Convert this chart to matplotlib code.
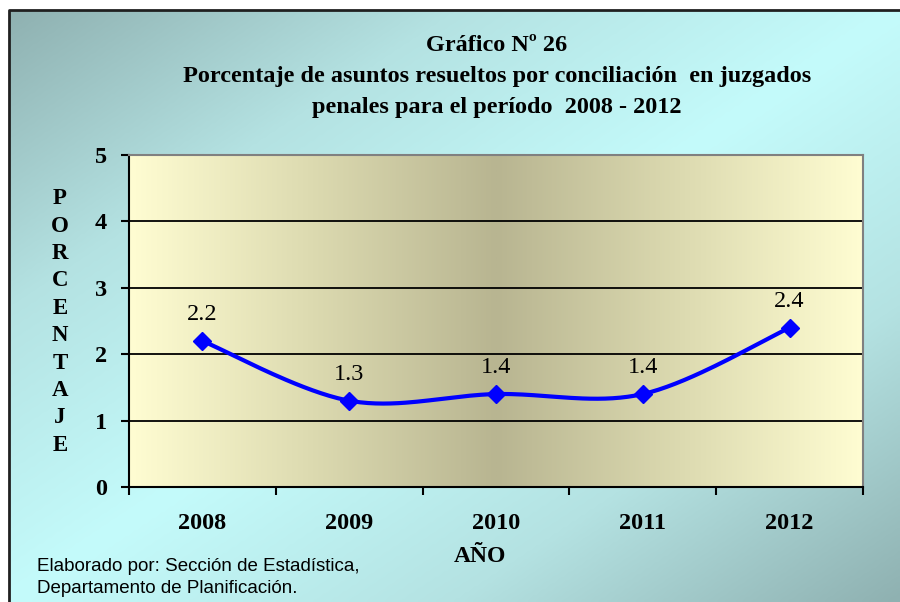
import matplotlib.pyplot as plt
import numpy as np
from matplotlib.colors import LinearSegmentedColormap

# Datos
anios = ["2008", "2009", "2010", "2011", "2012"]
porcentaje = [2.2, 1.3, 1.4, 1.4, 2.4]
etiquetas = ["2.2", "1.3", "1.4", "1.4", "2.4"]

titulo = ("Gráfico Nº 26\n"
          "Porcentaje de asuntos resueltos por conciliación  en juzgados\n"
          "penales para el período  2008 - 2012")
fuente = "Elaborado por: Sección de Estadística,\nDepartamento de Planificación."


def suavizar(x, y, n=40):
    # curva suavizada tipo Excel (Catmull-Rom con Bezier)
    px = np.concatenate([[x[0]], x, [x[-1]]])
    py = np.concatenate([[y[0]], y, [y[-1]]])
    xs, ys = [], []
    t = np.linspace(0, 1, n)
    for i in range(1, len(px) - 2):
        p0 = np.array([px[i], py[i]])
        p3 = np.array([px[i + 1], py[i + 1]])
        p1 = p0 + (np.array([px[i + 1], py[i + 1]]) - np.array([px[i - 1], py[i - 1]])) / 6
        p2 = p3 - (np.array([px[i + 2], py[i + 2]]) - np.array([px[i], py[i]])) / 6
        b = ((1 - t) ** 3)[:, None] * p0 + (3 * (1 - t) ** 2 * t)[:, None] * p1 \
            + (3 * (1 - t) * t ** 2)[:, None] * p2 + (t ** 3)[:, None] * p3
        xs.extend(b[:, 0])
        ys.extend(b[:, 1])
    return np.array(xs), np.array(ys)


fig = plt.figure(figsize=(9, 6.02), dpi=100)

# Fondo degradado de la figura
fondo = fig.add_axes([0, 0, 1, 1], zorder=-10)
fondo.set_xlim(0, 900)
fondo.set_ylim(602, 0)
fondo.axis("off")
gx, gy = np.meshgrid(np.linspace(0, 1, 300), np.linspace(0, 1, 200))
d = np.abs((gx + gy) - 1.0)
cmap_fondo = LinearSegmentedColormap.from_list("fondo", ["#c4fbfb", "#b4e2e2", "#8fb1b1"])
fondo.imshow(d, extent=[9, 900, 602, 10], cmap=cmap_fondo, vmin=0, vmax=1,
             aspect="auto", interpolation="bilinear")
fondo.plot([9, 9, 900], [602, 10, 10], color="#202020", lw=2)

# Área del gráfico
ax = fig.add_axes([0.1433, 0.191, 0.8156, 0.5515])
ax.set_xlim(0, 5)
ax.set_ylim(0, 5)
hx = np.linspace(0, 1, 400)[None, :]
hv = np.abs(hx - 0.5) * 2
cmap_area = LinearSegmentedColormap.from_list("area", ["#b8b591", "#dcdab0", "#fffdd2"])
ax.imshow(hv, extent=[0, 5, 0, 5], cmap=cmap_area, vmin=0, vmax=1,
          aspect="auto", interpolation="bilinear", zorder=0)

for v in range(1, 5):
    ax.axhline(v, color="black", lw=1.3, zorder=1)

x = np.arange(len(anios)) + 0.5
sx, sy = suavizar(x, np.array(porcentaje))
ax.plot(sx, sy, color="#0000ff", lw=3, zorder=3, solid_capstyle="round")
ax.plot(x, porcentaje, linestyle="none", marker="D", markersize=9,
        color="#0000ff", zorder=4)
for xi, yi, et in zip(x, porcentaje, etiquetas):
    ax.annotate(et, (xi, yi), xytext=(0, 19), textcoords="offset points",
                ha="center", va="center", fontsize=17.5, family="Liberation Serif")

ax.set_xticks(x)
ax.set_xticklabels(anios, fontsize=17.5, fontweight="bold", family="Liberation Serif")
ax.set_xticks(np.arange(0, 6), minor=True)
ax.tick_params(axis="x", which="major", length=0, pad=19)
ax.tick_params(axis="x", which="minor", length=6, width=1.5, direction="out")
ax.set_yticks(range(0, 6))
ax.set_yticklabels([str(v) for v in range(0, 6)], fontsize=17.5, fontweight="bold",
                   family="Liberation Serif")
ax.tick_params(axis="y", length=6, width=1.5, direction="out", pad=10)

for lado in ["left", "bottom"]:
    ax.spines[lado].set_color("black")
    ax.spines[lado].set_linewidth(1.5)
for lado in ["top", "right"]:
    ax.spines[lado].set_color("#808080")
    ax.spines[lado].set_linewidth(1.5)

# Textos
fig.text(0.552, 0.942, titulo, ha="center", va="top", fontsize=17.5, fontweight="bold",
         family="Liberation Serif", linespacing=1.63)
fig.text(0.0667, 0.465, "\n".join("PORCENTAJE"), ha="center", va="center", fontsize=16.5,
         fontweight="bold", family="Liberation Serif", linespacing=1.4)
fig.text(0.533, 0.075, "AÑO", ha="center", va="center", fontsize=17, fontweight="bold",
         family="Liberation Serif")
fig.text(0.041, 0.041, fuente, ha="left", va="center", fontsize=13.5,
         family="Liberation Sans", linespacing=1.4)

fig.savefig("out.png", dpi=100)
